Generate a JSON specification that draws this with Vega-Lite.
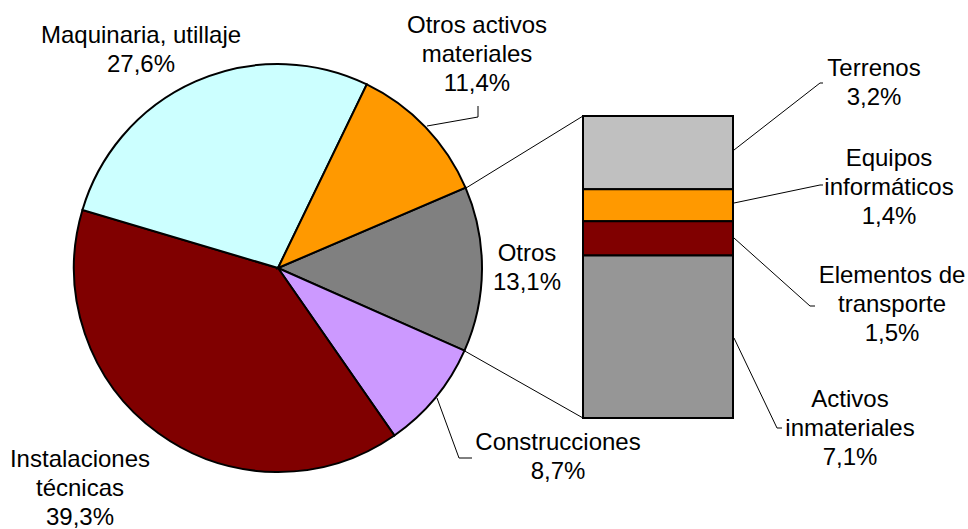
{
  "$schema": "https://vega.github.io/schema/vega-lite/v6.json",
  "width": 968,
  "height": 529,
  "padding": 0,
  "autosize": {"type": "none"},
  "background": "white",
  "config": {"view": {"stroke": null}},
  "datasets": {
    "sectores": [
      {"concepto": "Otros", "valor": 13.1, "orden": 1},
      {"concepto": "Construcciones", "valor": 8.7, "orden": 2},
      {"concepto": "Instalaciones técnicas", "valor": 39.3, "orden": 3},
      {"concepto": "Maquinaria, utillaje", "valor": 27.6, "orden": 4},
      {"concepto": "Otros activos materiales", "valor": 11.4, "orden": 5}
    ],
    "desglose": [
      {"concepto": "Terrenos", "valor": 3.2},
      {"concepto": "Equipos informáticos", "valor": 1.4},
      {"concepto": "Elementos de transporte", "valor": 1.5},
      {"concepto": "Activos inmateriales", "valor": 7.1}
    ],
    "lineas": [
      {"tramo": "Otros activos", "p": 1, "x": 427, "y": 126},
      {"tramo": "Otros activos", "p": 2, "x": 478, "y": 117},
      {"tramo": "Otros activos", "p": 3, "x": 478, "y": 106},
      {"tramo": "Construcciones", "p": 1, "x": 437, "y": 398},
      {"tramo": "Construcciones", "p": 2, "x": 459, "y": 458},
      {"tramo": "Construcciones", "p": 3, "x": 472, "y": 458},
      {"tramo": "Terrenos", "p": 1, "x": 734, "y": 150},
      {"tramo": "Terrenos", "p": 2, "x": 820, "y": 83},
      {"tramo": "Terrenos", "p": 3, "x": 823, "y": 83},
      {"tramo": "Equipos", "p": 1, "x": 734, "y": 203},
      {"tramo": "Equipos", "p": 2, "x": 820, "y": 185},
      {"tramo": "Equipos", "p": 3, "x": 823, "y": 185},
      {"tramo": "Elementos", "p": 1, "x": 734, "y": 238},
      {"tramo": "Elementos", "p": 2, "x": 810, "y": 306},
      {"tramo": "Elementos", "p": 3, "x": 815, "y": 306},
      {"tramo": "Activos", "p": 1, "x": 734, "y": 338},
      {"tramo": "Activos", "p": 2, "x": 777, "y": 428},
      {"tramo": "Activos", "p": 3, "x": 782, "y": 428},
      {"tramo": "Conector sup", "p": 1, "x": 466, "y": 188},
      {"tramo": "Conector sup", "p": 2, "x": 583, "y": 116},
      {"tramo": "Conector inf", "p": 1, "x": 463, "y": 350},
      {"tramo": "Conector inf", "p": 2, "x": 583, "y": 418}
    ],
    "etiquetas": [
      {"texto": "Maquinaria, utillaje\n27,6%", "x": 141, "y": 43},
      {"texto": "Otros activos\nmateriales\n11,4%", "x": 477, "y": 33},
      {"texto": "Otros\n13,1%", "x": 527, "y": 261},
      {"texto": "Construcciones\n8,7%", "x": 558, "y": 450},
      {"texto": "Instalaciones\ntécnicas\n39,3%", "x": 80, "y": 467},
      {"texto": "Terrenos\n3,2%", "x": 874, "y": 76},
      {"texto": "Equipos\ninformáticos\n1,4%", "x": 889, "y": 166},
      {"texto": "Elementos de\ntransporte\n1,5%", "x": 892, "y": 283},
      {"texto": "Activos\ninmateriales\n7,1%", "x": 850, "y": 407}
    ]
  },
  "resolve": {"scale": {"y": "independent", "color": "independent"}},
  "layer": [
    {
      "data": {"name": "sectores"},
      "mark": {"type": "arc", "outerRadius": 204, "stroke": "black", "strokeWidth": 2},
      "encoding": {
        "x": {"datum": 278, "type": "quantitative", "scale": {"domain": [0, 968], "nice": false, "zero": false}, "axis": null},
        "y": {"datum": 268, "type": "quantitative", "scale": {"domain": [529, 0], "nice": false, "zero": false}, "axis": null},
        "theta": {"field": "valor", "type": "quantitative", "stack": true, "scale": {"range": [1.1659, 7.4491]}},
        "order": {"field": "orden", "type": "quantitative"},
        "color": {
          "field": "concepto", "type": "nominal", "legend": null,
          "scale": {
            "domain": ["Otros", "Construcciones", "Instalaciones técnicas", "Maquinaria, utillaje", "Otros activos materiales"],
            "range": ["#808080", "#CC99FF", "#800000", "#CCFFFF", "#FF9900"]
          }
        }
      }
    },
    {
      "data": {"name": "desglose"},
      "transform": [
        {"stack": "valor", "groupby": [], "sort": [{"field": "concepto", "order": "ascending"}], "as": ["v0", "v1"]}
      ],
      "mark": {"type": "rect", "stroke": "black", "strokeWidth": 2},
      "encoding": {
        "x": {"datum": 583, "type": "quantitative"},
        "x2": {"datum": 733},
        "y": {"field": "v0", "type": "quantitative", "scale": {"domain": [0, 13.2], "range": [418, 116], "nice": false, "zero": false}, "axis": null},
        "y2": {"field": "v1"},
        "color": {
          "field": "concepto", "type": "nominal", "legend": null,
          "scale": {
            "domain": ["Terrenos", "Equipos informáticos", "Elementos de transporte", "Activos inmateriales"],
            "range": ["#C0C0C0", "#FF9900", "#800000", "#969696"]
          }
        }
      }
    },
    {
      "data": {"name": "lineas"},
      "mark": {"type": "line", "color": "black", "strokeWidth": 1},
      "encoding": {
        "x": {"field": "x", "type": "quantitative"},
        "y": {"field": "y", "type": "quantitative", "scale": {"domain": [529, 0], "nice": false, "zero": false}, "axis": null},
        "detail": {"field": "tramo", "type": "nominal"},
        "order": {"field": "p", "type": "quantitative"}
      }
    },
    {
      "data": {"name": "etiquetas"},
      "mark": {"type": "text", "align": "center", "baseline": "alphabetic", "lineBreak": "\n", "lineHeight": 29, "font": "Liberation Sans", "fontSize": 24, "color": "black"},
      "encoding": {
        "x": {"field": "x", "type": "quantitative"},
        "y": {"field": "y", "type": "quantitative", "scale": {"domain": [529, 0], "nice": false, "zero": false}, "axis": null},
        "text": {"field": "texto", "type": "nominal"}
      }
    }
  ]
}
